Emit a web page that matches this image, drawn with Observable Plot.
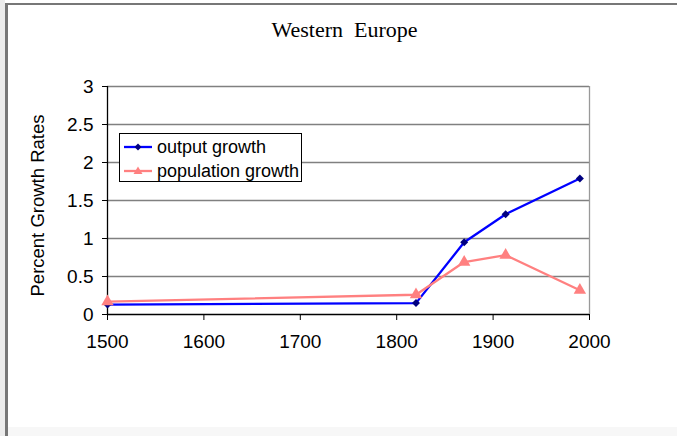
<!DOCTYPE html>
<html><head><meta charset="utf-8">
<script src="https://cdn.jsdelivr.net/npm/d3@7"></script>
<script src="https://cdn.jsdelivr.net/npm/@observablehq/plot@0.6"></script>
<style>
body{margin:0;background:#fff;}
#wrap{position:relative;width:677px;height:436px;overflow:hidden;font-family:"Liberation Sans",Arial,sans-serif;background:#fff;}
.lstrip{position:absolute;left:0;top:0;width:5px;height:436px;background:#ececec;}
.frame{position:absolute;left:5px;top:3px;width:680px;height:440px;border-left:3px solid #777;border-top:2px solid #777;}
.bstrip{position:absolute;left:8px;top:427px;width:669px;height:9px;background:#f7f7f7;}
#title{position:absolute;left:0;width:689px;top:17px;text-align:center;font-family:"Liberation Serif","Times New Roman",serif;font-size:22px;color:#000;white-space:pre;}
#chart{position:absolute;left:0;top:0;}
#legend{position:absolute;left:119px;top:133px;width:181px;height:47px;border:1px solid #000;background:#fff;font-size:18px;color:#000;}
#legend .row{position:absolute;left:4px;height:20px;display:flex;align-items:center;white-space:nowrap;}
#legend svg{margin-right:5px;}
</style></head><body>
<div id="wrap">
 <div class="lstrip"></div>
 <div class="frame"></div>
 <div class="bstrip"></div>
 <div id="title"></div>
 <div id="chart"></div>
 <div id="legend"></div>
</div>
<script>
const titleText = "Western  Europe";
const yLabel = "Percent Growth Rates";
const years = [1500, 1820, 1870, 1913, 1990];
const outputGrowth = [0.13, 0.15, 0.95, 1.32, 1.79];
const populationGrowth = [0.17, 0.26, 0.69, 0.78, 0.32];
const yTicks = [0, 0.5, 1, 1.5, 2, 2.5, 3];
const xTicks = [1500, 1600, 1700, 1800, 1900, 2000];
const seriesNames = ["output growth", "population growth"];
const seriesColors = ["#0000ff", "#ff8080"];
const markerColors = ["#000080", "#ff8080"];

const outData = years.map((x, i) => ({x, y: outputGrowth[i]}));
const popData = years.map((x, i) => ({x, y: populationGrowth[i]}));

document.getElementById("title").textContent = titleText;

const chart = Plot.plot({
  width: 677, height: 436,
  marginLeft: 107, marginRight: 88, marginTop: 86, marginBottom: 122,
  style: {background: "transparent", fontSize: "19px", fontFamily: "'Liberation Sans', Arial, sans-serif", color: "#000"},
  x: {domain: [1500, 2000]},
  y: {domain: [0, 3]},
  marks: [
    Plot.ruleY(yTicks.filter(d => d > 0), {stroke: "#808080", strokeWidth: 1.3}),
    Plot.ruleX([2000], {stroke: "#999", strokeWidth: 1.3}),
    Plot.axisY({ticks: yTicks, tickSize: 5, tickPadding: 9, tickFormat: d => String(d), label: null, stroke: "#000"}),
    Plot.axisX({ticks: xTicks, tickSize: 6, tickPadding: 14, tickFormat: d => String(d), label: null, stroke: "#000"}),
    Plot.ruleY([0], {stroke: "#000", strokeWidth: 1.3}),
    Plot.ruleX([1500], {stroke: "#000", strokeWidth: 1.3}),
    Plot.text([yLabel], {frameAnchor: "left", rotate: -90, textAnchor: "middle", dx: -69, dy: 5, text: d => d, fontSize: 18.5, fill: "#000"}),
    Plot.line(outData, {x: "x", y: "y", stroke: seriesColors[0], strokeWidth: 2.3}),
    Plot.dot(outData, {x: "x", y: "y", symbol: "diamond2", r: 3.6, fill: markerColors[0], stroke: "none"}),
    Plot.line(popData, {x: "x", y: "y", stroke: seriesColors[1], strokeWidth: 2.3}),
    Plot.dot(popData, {x: "x", y: "y", symbol: "triangle", r: 4.6, fill: markerColors[1], stroke: "none"})
  ]
});
document.getElementById("chart").appendChild(chart);

// legend
const legend = document.getElementById("legend");
seriesNames.forEach((name, i) => {
  const row = document.createElement("div");
  row.className = "row";
  row.style.top = (3 + i * 24) + "px";
  const marker = i === 0
    ? `<path d="M14,6.5 L17.5,10 L14,13.5 L10.5,10 Z" fill="${markerColors[0]}"/>`
    : `<path d="M14,5.5 L18.5,13 L9.5,13 Z" fill="${markerColors[1]}"/>`;
  row.innerHTML = `<svg width="28" height="20"><line x1="0" x2="28" y1="10" y2="10" stroke="${seriesColors[i]}" stroke-width="2.3"/>${marker}</svg><span></span>`;
  row.querySelector("span").textContent = name;
  legend.appendChild(row);
});
</script>
</body></html>
